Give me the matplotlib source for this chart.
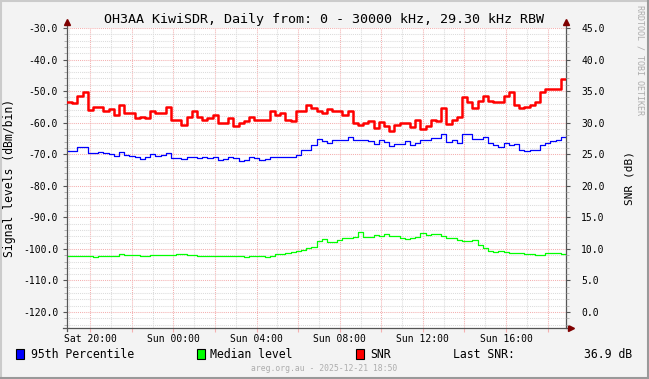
import numpy as np
import pandas as pd
import matplotlib
matplotlib.use("Agg")
import matplotlib.pyplot as plt
import matplotlib.dates as mdates
from matplotlib.lines import Line2D
from matplotlib.patches import Rectangle
from matplotlib.ticker import MultipleLocator, FuncFormatter

# ---------------- data ----------------
start_time = "2025-12-20 18:53"
step_minutes = 15

snr = [33.3, 33.1, 34.2, 34.8, 32.0, 32.5, 32.5, 31.8, 32.1, 31.2,
       32.8, 31.6, 31.5, 30.7, 30.9, 30.7, 31.9, 31.5, 31.6, 32.5,
       30.4, 30.5, 29.6, 30.9,
       31.8, 30.9, 30.5, 30.8, 31.2, 29.9, 29.9, 30.7, 29.5, 29.9,
       30.2, 30.9, 30.5, 30.4, 30.5, 31.8, 31.2, 31.5, 30.4, 30.2,
       31.8, 31.9, 32.8, 32.4,
       31.8, 31.6, 32.1, 31.8, 31.8, 31.2, 31.8, 29.9, 29.6, 29.9,
       30.2, 29.1, 30.1, 29.4, 28.7, 29.6, 29.9, 29.9, 29.3, 30.5,
       29.0, 29.5, 30.4, 30.2,
       32.3, 29.8, 30.4, 30.9, 34.1, 33.2, 32.4, 33.5, 34.2, 33.5,
       33.3, 33.2, 34.2, 34.9, 32.8, 32.4, 32.5, 32.8, 33.3, 34.8,
       35.4, 35.3, 35.4, 36.9]

p95 = [-69.0, -69.1, -67.8, -67.6, -69.7, -69.5, -69.4, -69.5, -69.9, -70.6,
       -69.2, -70.2, -70.6, -70.8, -71.6, -71.0, -69.9, -70.6, -70.2, -69.7,
       -71.3, -71.1, -71.6, -71.0,
       -71.0, -71.3, -71.0, -71.3, -70.8, -71.8, -71.6, -71.0, -71.3, -72.0,
       -71.8, -71.0, -71.3, -71.8, -71.6, -70.8, -71.0, -71.0, -71.0, -71.0,
       -70.2, -68.7, -68.7, -67.1,
       -65.3, -65.7, -66.3, -65.5, -65.5, -65.5, -64.4, -65.5, -65.5, -65.5,
       -65.7, -66.8, -65.5, -66.0, -67.4, -66.8, -66.8, -65.7, -67.1, -66.5,
       -65.5, -65.5, -65.0, -65.0,
       -63.6, -66.0, -65.5, -66.5, -63.6, -63.6, -65.3, -65.3, -64.4, -66.5,
       -67.1, -67.6, -66.5, -67.1, -66.8, -68.7, -68.9, -68.7, -68.7, -67.1,
       -66.3, -65.7, -65.5, -64.4]

median = [-102.2, -102.4, -102.1, -102.2, -102.2, -102.5, -102.2, -102.1, -102.2, -102.2,
          -101.5, -101.9, -101.9, -101.9, -102.1, -102.1, -101.9, -101.9, -101.9, -101.9,
          -101.9, -101.6, -101.7, -101.9,
          -101.9, -102.1, -102.1, -102.1, -102.1, -102.1, -102.1, -102.1, -102.1, -102.1,
          -102.5, -102.2, -102.1, -102.1, -102.5, -102.1, -101.7, -101.7, -101.4, -101.1,
          -100.7, -100.3, -99.8, -99.4,
          -97.4, -97.0, -97.9, -97.7, -97.2, -96.6, -96.4, -96.1, -94.5, -96.1,
          -96.1, -95.6, -95.8, -95.4, -95.8, -95.8, -96.4, -96.9, -96.4, -96.1,
          -95.1, -95.6, -95.4, -95.4,
          -95.8, -96.6, -96.6, -97.2, -97.5, -97.5, -97.2, -98.8, -99.6, -100.7,
          -100.9, -100.7, -100.9, -101.2, -101.4, -101.4, -101.7, -101.7, -101.9, -101.9,
          -101.4, -101.3, -101.4, -101.6]

title = "OH3AA KiwiSDR, Daily from: 0 - 30000 kHz, 29.30 kHz RBW"
left_label = "Signal levels (dBm/bin)"
right_label = "SNR (dB)"
legend_names = ["95th Percentile", "Median level", "SNR"]
footer = "areg.org.au - 2025-12-21 18:50"
watermark = "RRDTOOL / TOBI OETIKER"

# ---------------- style ----------------
MONO = "DejaVu Sans Mono"
plt.rcParams["font.family"] = MONO
W, H = 649, 379
BG = "#F3F3F3"
AXC = "#555555"
ARROW = "#7F0000"
MGRID = "#F4B0B0"
GRID = "#DCDCDC"

fig = plt.figure(figsize=(W / 100, H / 100), dpi=100)
fig.patch.set_facecolor(BG)

L, R, T, B = 67, 566, 28, 327.8
ax = fig.add_axes([L / W, 1 - B / H, (R - L) / W, (B - T) / H])
ax.set_facecolor("white")
ax2 = ax.twinx()

n = len(snr)
times = pd.date_range(start_time, periods=n + 1, freq=f"{step_minutes}min")
x0, x1 = times[0], times[-1]

def ext(v):
    return list(v) + [v[-1]]

ax.step(times, ext(p95), where="post", color="#0000FF", lw=0.9, zorder=5)
ax.step(times, ext(median), where="post", color="#00FF00", lw=0.9, zorder=5)
ax2.step(times, ext(snr), where="post", color="#FF0000", lw=1.8, zorder=5)

ax.set_xlim(x0, x1)
ax.set_ylim(-125, -30)
ax2.set_ylim(-2.5, 45)

# y ticks / grid
ax.yaxis.set_major_locator(MultipleLocator(10))
ax.yaxis.set_minor_locator(MultipleLocator(2))
ax.yaxis.set_major_formatter(FuncFormatter(lambda v, p: f"{v:.1f}"))
ax2.yaxis.set_major_locator(MultipleLocator(5))
ax2.yaxis.set_minor_locator(MultipleLocator(1))
ax2.yaxis.set_major_formatter(FuncFormatter(lambda v, p: f"{v:.1f}"))

# x ticks / grid
ax.xaxis.set_major_locator(mdates.HourLocator(interval=2))
ax.xaxis.set_minor_locator(mdates.HourLocator(interval=1))
def xfmt(v, p):
    d = mdates.num2date(v)
    return d.strftime("%a %H:%M") if d.hour % 4 == 0 else ""
ax.xaxis.set_major_formatter(FuncFormatter(xfmt))

ax.grid(which="minor", color=GRID, lw=0.75, linestyle=(0, (1, 1)), zorder=1)
ax.grid(which="major", color=MGRID, lw=0.75, linestyle=(0, (1, 1)), zorder=2)
ax.set_axisbelow(True)

for a in (ax, ax2):
    for s in a.spines.values():
        s.set_visible(False)

ax.tick_params(axis="x", which="major", length=3, width=0.8, color=MGRID,
               labelsize=7, pad=1.5, labelcolor="black")
ax.tick_params(axis="x", which="minor", length=0)
ax.tick_params(axis="y", which="major", length=3, width=0.8, color=AXC,
               labelsize=7, pad=3.4)
ax.tick_params(axis="y", which="minor", length=2, width=0.6, color="#AAAAAA")
ax2.tick_params(axis="y", which="major", length=3, width=0.8, color=AXC,
                labelsize=7, pad=7.9)
ax2.tick_params(axis="y", which="minor", length=2, width=0.6, color="#AAAAAA")
for lab in ax.get_xticklabels() + ax.get_yticklabels() + ax2.get_yticklabels():
    lab.set_family(MONO)

# axis lines with arrows (RRD style)
pw, ph = (R - L), (B - T)
ax.add_line(Line2D([0, 0], [-3 / ph, 1 + 6 / ph], transform=ax.transAxes,
                   color=AXC, lw=0.9, clip_on=False, zorder=6))
ax.add_line(Line2D([1, 1], [0, 1 + 6 / ph], transform=ax.transAxes,
                   color=AXC, lw=0.9, clip_on=False, zorder=6))
ax.add_line(Line2D([-4.5 / pw, 1 + 6 / pw], [0, 0], transform=ax.transAxes,
                   color=AXC, lw=0.9, clip_on=False, zorder=6))
ax.plot([0, 1], [1 + 6 / ph, 1 + 6 / ph], transform=ax.transAxes, ls="none",
        marker="^", ms=4, color=ARROW, clip_on=False, zorder=7)
ax.plot([1 + 5 / pw], [0], transform=ax.transAxes, ls="none",
        marker=">", ms=4, color=ARROW, clip_on=False, zorder=7)

# texts
fig.text(323.5 / W, 1 - 19 / H, title, ha="center", va="center",
         fontsize=9.6, family=MONO, color="black")
fig.text(10 / W, 1 - 177.5 / H, left_label, rotation=90, ha="center",
         va="center", fontsize=8.3, family=MONO)
fig.text(629 / W, 1 - 178.5 / H, right_label, rotation=90, ha="center",
         va="center", fontsize=8.0, family=MONO)
fig.text(640 / W, 1 - 60 / H, watermark, rotation=270, ha="center",
         va="center", fontsize=6.0, family=MONO, color="#ADADAD")
fig.text(323.7 / W, 1 - 368.3 / H, footer, ha="center", va="center",
         fontsize=5.9, family=MONO, color="#ADADAD")

# legend
leg_y = 354
sq = [(15.5, "#0000FF"), (196.5, "#00FF00"), (355.5, "#FF0000")]
tx = [30.5, 210.5, 370.5]
for (sx, c), t, name in zip(sq, tx, legend_names):
    fig.add_artist(Rectangle((sx / W, 1 - 358.5 / H), 8 / W, 9.5 / H,
                             transform=fig.transFigure, facecolor=c,
                             edgecolor="black", lw=0.8))
    fig.text(t / W, 1 - leg_y / H, name, ha="left", va="center",
             fontsize=8.3, family=MONO)
fig.text(453.3 / W, 1 - leg_y / H, "Last SNR:", ha="left", va="center",
         fontsize=8.3, family=MONO)
fig.text(632 / W, 1 - leg_y / H, f"{snr[-1]:.1f} dB", ha="right",
         va="center", fontsize=8.3, family=MONO)

# 3D frame
def fline(xs, ys, c):
    fig.add_artist(Line2D([x / W for x in xs], [1 - y / H for y in ys],
                          transform=fig.transFigure, color=c, lw=1.5))
fline([0.5, 0.5], [0, H], "#CBCBCB")
fline([0, W], [0.5, 0.5], "#CBCBCB")
fline([W - 0.8, W - 0.8], [0, H], "#999999")
fline([0, W], [H - 0.8, H - 0.8], "#999999")

fig.savefig("out.png", dpi=100, facecolor=BG)
